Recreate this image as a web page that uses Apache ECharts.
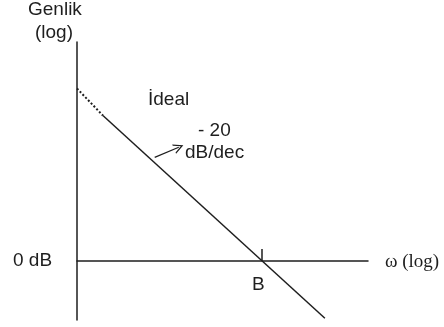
<!DOCTYPE html>
<html>
<head>
<meta charset="utf-8">
<script src="https://cdn.jsdelivr.net/npm/echarts@6/dist/echarts.min.js"></script>
<style>
  html, body { margin: 0; padding: 0; background: #fff; }
  #chart { width: 444px; height: 327px; }
</style>
</head>
<body>
<div id="chart"></div>
<script>
// Ideal Bode magnitude asymptote: x = log10(ω) in decades, y = gain in dB
const breakPoint = [[2, 0], [2, 2.8]];              // tick mark at B on the 0 dB line
const extrapolated = [[0, 40.8], [0.28, 34.4]];    // dotted part near the axis
const asymptote = [[0.28, 34.4], [2.68, -13.6]];   // -20 dB/dec slope through B
const slopeArrow = [[0.84, 24.5], [1.1, 26.9]];    // pointer to the slope label

const axisMin = { x: 0, y: -14 };
const axisMax = { x: 3.146, y: 51.8 };

const ink = '#1e1e1e';
const sans = '"Liberation Sans", Arial, sans-serif';
const labelFont = '19px ' + sans;

const chart = echarts.init(document.getElementById('chart'), null, { renderer: 'canvas' });

const hiddenAxis = {
  type: 'value',
  axisLabel: { show: false },
  axisTick: { show: false },
  splitLine: { show: false },
  axisLine: { show: true, onZero: true, lineStyle: { color: ink, width: 1.5 } }
};

chart.setOption({
  animation: false,
  backgroundColor: '#fff',
  grid: { left: 77, right: 76, top: 42, bottom: 7 },
  xAxis: Object.assign({}, hiddenAxis, { min: axisMin.x, max: axisMax.x }),
  yAxis: Object.assign({}, hiddenAxis, { min: axisMin.y, max: axisMax.y,
    axisLine: { show: true, onZero: false, lineStyle: { color: ink, width: 1.5 } } }),
  series: [
    {
      type: 'line', data: extrapolated, symbol: 'none',
      lineStyle: { color: ink, width: 2, type: [2, 2] }
    },
    {
      type: 'line', data: asymptote, symbol: 'none',
      lineStyle: { color: ink, width: 1.5 }
    },
    {
      type: 'line', data: breakPoint, symbol: 'none',
      lineStyle: { color: ink, width: 1.5 }
    },
    {
      type: 'lines', coordinateSystem: 'cartesian2d', polyline: false,
      symbol: ['none', 'path://M0,10 L5,0 L10,10 L8.6,10 L5,2.8 L1.4,10 Z'],
      symbolSize: 10,
      lineStyle: { color: ink, width: 1.2, opacity: 1 },
      data: [{ coords: slopeArrow }]
    }
  ],
  graphic: [
    { type: 'text', left: 28, top: 0, style: { text: 'Genlik', fill: ink, font: labelFont } },
    { type: 'text', left: 35, top: 23, style: { text: '(log)', fill: ink, font: labelFont } },
    { type: 'text', left: 148, top: 90, style: { text: 'İdeal', fill: ink, font: labelFont } },
    { type: 'text', left: 198, top: 121, style: { text: '- 20', fill: ink, font: labelFont } },
    { type: 'text', left: 185, top: 143, style: { text: 'dB/dec', fill: ink, font: labelFont } },
    { type: 'text', left: 13, top: 251, style: { text: '0 dB', fill: ink, font: labelFont } },
    { type: 'text', left: 252, top: 275, style: { text: 'B', fill: ink, font: labelFont } },
    { type: 'text', left: 385, top: 253, style: { text: 'ω (log)', fill: ink, font: '19px "Liberation Serif", "Times New Roman", serif' } }
  ]
});
</script>
</body>
</html>
